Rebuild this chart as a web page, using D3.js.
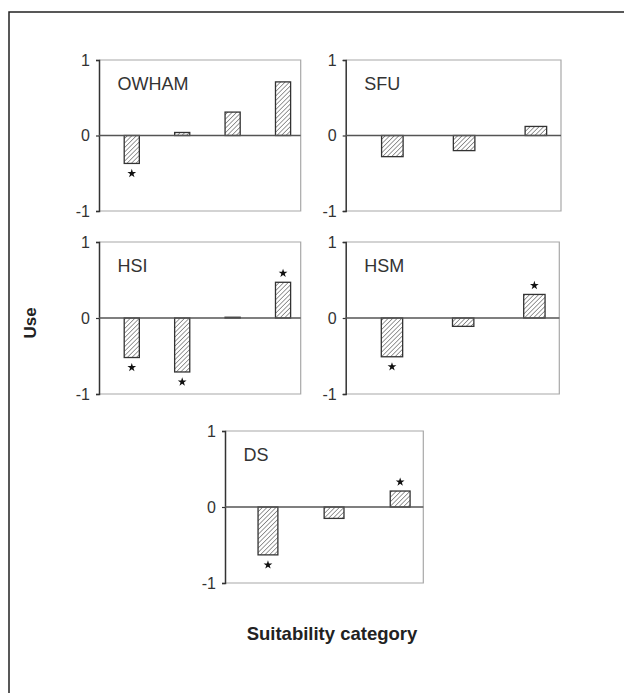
<!DOCTYPE html>
<html><head><meta charset="utf-8">
<script src="https://cdn.jsdelivr.net/npm/d3@7"></script>
<style>html,body{margin:0;padding:0;background:#fff;}svg{display:block;}</style>
</head><body>
<svg id="chart" width="624" height="693"></svg>
<script>
// ---- data ----
const panelNames = ["OWHAM", "SFU", "HSI", "HSM", "DS"];
const owhamValues = [-0.37, 0.04, 0.31, 0.71];
const sfuValues   = [-0.28, -0.20, 0.12];
const hsiValues   = [-0.52, -0.71, 0.01, 0.47];
const hsmValues   = [-0.51, -0.11, 0.31];
const dsValues    = [-0.63, -0.15, 0.21];
const owhamSig = [1, 0, 0, 0];
const sfuSig   = [0, 0, 0];
const hsiSig   = [1, 1, 0, 1];
const hsmSig   = [1, 0, 1];
const dsSig    = [1, 0, 1];
const yTickValues = [-1, 0, 1];
const yAxisTitle = "Use";
const xAxisTitle = "Suitability category";

// ---- layout ----
const layout = [
  {x0: 99,    x1: 300.7, top: 60,  bottom: 211},
  {x0: 345.7, x1: 561,   top: 60,  bottom: 211},
  {x0: 99,    x1: 300.7, top: 242, bottom: 394},
  {x0: 345.7, x1: 559.3, top: 242, bottom: 394},
  {x0: 225,   x1: 423.3, top: 431, bottom: 583}
];
const valuesList = [owhamValues, sfuValues, hsiValues, hsmValues, dsValues];
const sigList = [owhamSig, sfuSig, hsiSig, hsmSig, dsSig];

const svg = d3.select("#chart");
const defs = svg.append("defs");
const pat = defs.append("pattern").attr("id", "hatch")
  .attr("patternUnits", "userSpaceOnUse").attr("width", 3.2).attr("height", 3.2)
  .attr("patternTransform", "rotate(45)");
pat.append("rect").attr("width", 3.2).attr("height", 3.2).attr("fill", "#fff");
pat.append("line").attr("x1", 0).attr("y1", 0).attr("x2", 0).attr("y2", 3.2)
  .attr("stroke", "#7a7a7a").attr("stroke-width", 1.5);

// outer frame
svg.append("rect").attr("x", 9).attr("y", 12).attr("width", 720).attr("height", 720)
  .attr("fill", "none").attr("stroke", "#222").attr("stroke-width", 1.5);

const font = "Liberation Sans, Arial, sans-serif";

panelNames.forEach((name, i) => {
  const L = layout[i];
  const vals = valuesList[i];
  const sig = sigList[i];
  const g = svg.append("g");
  const x = d3.scaleBand().domain(d3.range(vals.length)).range([L.x0, L.x1]).padding(0);
  const y = d3.scaleLinear().domain([-1, 1]).range([L.bottom, L.top]);
  const step = x.step();
  const bw = step * 0.3;

  // frame top/right/bottom (light)
  g.append("path")
    .attr("d", `M${L.x0},${y(1)}H${L.x1}V${y(-1)}H${L.x0}`)
    .attr("fill", "none").attr("stroke", "#a8a8a8").attr("stroke-width", 1.2);

  // y axis
  const ax = d3.axisLeft(y).tickValues(yTickValues).tickSize(3).tickPadding(6)
    .tickFormat(d3.format("d"));
  const ag = g.append("g").attr("transform", `translate(${L.x0},0)`).call(ax)
    .attr("font-size", null).attr("font-family", null);
  ag.select(".domain").attr("stroke", "#333").attr("stroke-width", 1.5);
  ag.selectAll(".tick line").attr("stroke", "#333").attr("stroke-width", 1.2);
  ag.selectAll(".tick text")
    .style("font-family", font).style("font-size", "16px")
    .attr("fill", "#333").text(d => d < 0 ? "-" + Math.abs(d) : d);

  // bars
  g.selectAll("rect.bar").data(vals).enter().append("rect")
    .attr("class", "bar")
    .attr("x", (d, j) => x(j) + step / 2)
    .attr("width", bw)
    .attr("y", d => Math.min(y(d), y(0)))
    .attr("height", d => Math.abs(y(d) - y(0)))
    .attr("fill", "url(#hatch)").attr("stroke", "#333").attr("stroke-width", 1.3);

  // zero line
  g.append("line").attr("x1", L.x0).attr("x2", L.x1).attr("y1", y(0)).attr("y2", y(0))
    .attr("stroke", "#555").attr("stroke-width", 1.5);

  // significance stars
  const star = d3.symbol().type(d3.symbolStar).size(24);
  g.selectAll("path.star").data(vals.map((v, j) => ({v, j, s: sig[j]})).filter(d => d.s))
    .enter().append("path").attr("class", "star")
    .attr("d", star)
    .attr("fill", "#111")
    .attr("transform", d => `translate(${x(d.j) + step / 2 + bw / 2},${d.v < 0 ? y(d.v) + 10 : y(d.v) - 9})`);

  // panel title
  g.append("text").attr("x", L.x0 + 18.5).attr("y", L.top + 29.5)
    .style("font-family", font).style("font-size", "18px").attr("fill", "#333").text(name);
});

// axis titles
svg.append("text").attr("transform", "translate(36,323) rotate(-90)")
  .attr("text-anchor", "middle").style("font-family", font).style("font-weight", "bold")
  .style("font-size", "17px").attr("fill", "#222").text(yAxisTitle);
svg.append("text").attr("x", 332).attr("y", 640)
  .attr("text-anchor", "middle").style("font-family", font).style("font-weight", "bold")
  .style("font-size", "18.5px").attr("fill", "#222").text(xAxisTitle);
</script>
</body></html>
